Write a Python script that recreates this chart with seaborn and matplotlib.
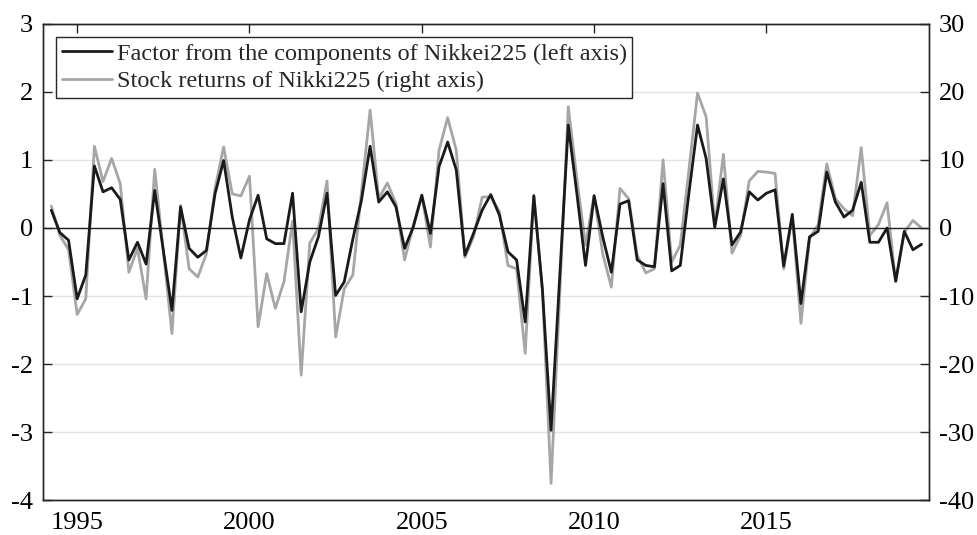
import numpy as np
import pandas as pd
import matplotlib
matplotlib.use("Agg")
import matplotlib.pyplot as plt
import seaborn as sns

# Quarterly dates: 1994Q2 .. 2019Q3 (decimal year)
start_year = 1994.25
n_points = 102

factor = [0.26, -0.07, -0.18, -1.04, -0.69, 0.91, 0.53, 0.59, 0.42, -0.47,
          -0.21, -0.53, 0.55, -0.33, -1.21, 0.31, -0.30, -0.43, -0.33, 0.50,
          0.99, 0.16, -0.44, 0.12, 0.48, -0.16, -0.23, -0.23, 0.51, -1.23,
          -0.50, -0.13, 0.51, -0.99, -0.79, -0.16, 0.41, 1.20, 0.38, 0.53,
          0.31, -0.30, 0.01, 0.48, -0.08, 0.90, 1.26, 0.85, -0.40, -0.08,
          0.26, 0.49, 0.19, -0.35, -0.47, -1.38, 0.47, -0.91, -2.97, -0.73,
          1.51, 0.50, -0.55, 0.47, -0.13, -0.65, 0.35, 0.40, -0.47, -0.55,
          -0.57, 0.65, -0.63, -0.55, 0.51, 1.51, 1.02, 0.01, 0.72, -0.25,
          -0.06, 0.53, 0.41, 0.51, 0.56, -0.56, 0.20, -1.11, -0.13, -0.05,
          0.82, 0.38, 0.16, 0.26, 0.67, -0.21, -0.21, 0.00, -0.78, -0.05,
          -0.32, -0.24]

returns = [3.2, -1.1, -3.2, -12.7, -10.4, 12.0, 6.8, 10.2, 6.5, -6.5,
           -3.0, -10.4, 8.6, -3.4, -15.5, 3.3, -6.0, -7.2, -3.8, 5.8,
           11.9, 5.0, 4.7, 7.6, -14.5, -6.7, -11.8, -7.9, 1.0, -21.6,
           -2.2, -0.1, 6.9, -16.0, -8.9, -6.9, 5.3, 17.3, 4.3, 6.6,
           3.6, -4.7, 0.3, 4.8, -2.8, 11.4, 16.2, 11.4, -4.3, -1.3,
           4.5, 4.6, 2.4, -5.5, -6.0, -18.4, 4.8, -9.1, -37.5, -9.9,
           17.8, 7.2, -2.5, 4.8, -3.8, -8.7, 5.8, 4.3, -4.0, -6.6,
           -6.0, 10.0, -5.0, -2.5, 8.5, 19.8, 16.3, 0.3, 10.8, -3.7,
           -1.1, 6.9, 8.3, 8.2, 8.0, -6.0, 1.7, -14.0, -1.6, 0.5,
           9.4, 4.3, 2.8, 1.8, 11.8, -1.1, 0.5, 3.7, -7.9, -0.6,
           1.1, 0.0]

x_ticks = [1995, 2000, 2005, 2010, 2015]
left_ticks = list(range(-4, 4))
right_ticks = list(range(-40, 31, 10))

dates = start_year + 0.25 * np.arange(n_points)
df = pd.DataFrame({"date": dates, "factor": factor, "returns": returns})

sns.set_style("white")
plt.rcParams["font.family"] = ["Liberation Serif", "DejaVu Serif"]

fig = plt.figure(figsize=(9.77, 5.35), dpi=100)
ax = fig.add_axes([0.0437, 0.0645, 0.9073, 0.8915])
ax2 = ax.twinx()

black = "#1a1a1a"
gray = "#a6a6a6"

ax.set_zorder(ax2.get_zorder() + 1)
ax.patch.set_visible(False)

sns.lineplot(data=df, x="date", y="returns", ax=ax2, color=gray, lw=2.0,
             label="Stock returns of Nikki225 (right axis)", legend=False)
sns.lineplot(data=df, x="date", y="factor", ax=ax, color=black, lw=2.0,
             label="Factor from the components of Nikkei225 (left axis)", legend=False)

ax.axhline(0, color="#222222", lw=1.0, zorder=0.5)

ax.set_xlim(1994.0, 2019.72)
ax.set_ylim(-4, 3)
ax2.set_ylim(-40, 30)
ax.set_xticks(x_ticks)
ax.set_xticklabels([str(v) for v in x_ticks])
ax.set_yticks(left_ticks)
ax.set_yticklabels([str(v) for v in left_ticks])
ax2.set_yticks(right_ticks)
ax2.set_yticklabels([str(v) for v in right_ticks])
ax.set_xlabel("")
ax.set_ylabel("")
ax2.set_ylabel("")

ax2.grid(False)
ax2.xaxis.grid(True, color="#e3e3e3", lw=1.0)
ax2.yaxis.grid(True, color="#e3e3e3", lw=1.0)
ax2.set_axisbelow(True)

fs = 19
ax.tick_params(axis="both", direction="in", length=6.5, width=1.0, labelsize=fs,
               top=True, colors="#262626", labelcolor="black")
ax2.tick_params(axis="y", direction="in", length=6.5, width=1.0, labelsize=fs,
                colors="#262626", labelcolor="black")
ax.tick_params(axis="x", pad=8)
ax.tick_params(axis="y", pad=7)
ax2.tick_params(axis="y", pad=7)

for a in (ax, ax2):
    for s in a.spines.values():
        s.set_color("#262626")
        s.set_linewidth(1.0)

h1, l1 = ax.get_legend_handles_labels()
h2, l2 = ax2.get_legend_handles_labels()
leg = ax.legend(h1 + h2, l1 + l2, loc="upper left", bbox_to_anchor=(0.015, 0.971),
                fontsize=17.5, frameon=True, fancybox=False, framealpha=1,
                edgecolor="#262626", handlelength=2.06, handletextpad=0.2,
                borderpad=0.23, labelspacing=0.21, borderaxespad=0.0)
leg.get_frame().set_linewidth(1.0)

fig.savefig("out.png", dpi=100)
